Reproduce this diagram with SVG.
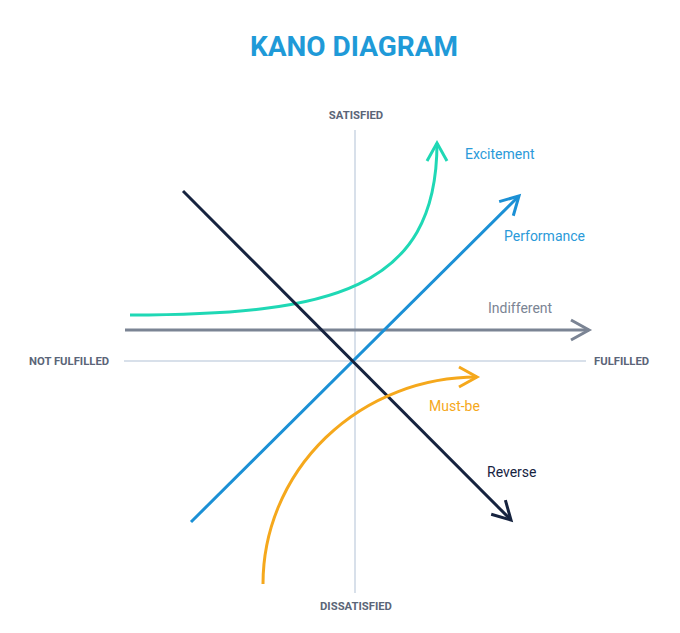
<svg xmlns="http://www.w3.org/2000/svg" width="680" height="633" viewBox="0 0 680 633">
  <style>
    text { font-family: Roboto, "Liberation Sans", sans-serif; }
    .title { font-size: 28px; font-weight: 700; fill: #1f9ad8; }
    .axislabel { font-size: 11.3px; font-weight: 700; fill: #5b6578; }
    .lbl { font-size: 14px; }
    .axis { stroke: #d8e0ea; stroke-width: 2; fill: none; }
    .curve { fill: none; stroke-width: 3; stroke-linecap: butt; }
  </style>
  <defs>
    <marker id="ah-exc" markerUnits="userSpaceOnUse" viewBox="-22 -14 26 28" refX="0" refY="0" markerWidth="26" markerHeight="28" orient="auto" overflow="visible">
      <path d="M-18,-10 L0,0 L-18,10" fill="none" stroke="#1fd8b5" stroke-width="3"/>
    </marker>
    <marker id="ah-perf" markerUnits="userSpaceOnUse" viewBox="-22 -14 26 28" refX="0" refY="0" markerWidth="26" markerHeight="28" orient="auto" overflow="visible">
      <path d="M-18,-10 L0,0 L-18,10" fill="none" stroke="#1b90d5" stroke-width="3"/>
    </marker>
    <marker id="ah-ind" markerUnits="userSpaceOnUse" viewBox="-22 -14 26 28" refX="0" refY="0" markerWidth="26" markerHeight="28" orient="auto" overflow="visible">
      <path d="M-18,-10 L0,0 L-18,10" fill="none" stroke="#7b8494" stroke-width="3"/>
    </marker>
    <marker id="ah-must" markerUnits="userSpaceOnUse" viewBox="-22 -14 26 28" refX="0" refY="0" markerWidth="26" markerHeight="28" orient="auto" overflow="visible">
      <path d="M-18,-10 L0,0 L-18,10" fill="none" stroke="#f5a81c" stroke-width="3"/>
    </marker>
    <marker id="ah-rev" markerUnits="userSpaceOnUse" viewBox="-22 -14 26 28" refX="0" refY="0" markerWidth="26" markerHeight="28" orient="auto" overflow="visible">
      <path d="M-18,-10 L0,0 L-18,10" fill="none" stroke="#16233f" stroke-width="3"/>
    </marker>
  </defs>

  <rect width="680" height="633" fill="#ffffff"/>

  <text class="title" x="354" y="56" text-anchor="middle">KANO DIAGRAM</text>

  <g id="axes">
    <line class="axis" x1="355" y1="130" x2="355" y2="593"/>
    <line class="axis" x1="124" y1="361" x2="586" y2="361"/>
    <text class="axislabel" x="356" y="119" text-anchor="middle">SATISFIED</text>
    <text class="axislabel" x="356" y="610" text-anchor="middle">DISSATISFIED</text>
    <text class="axislabel" x="29" y="365">NOT FULFILLED</text>
    <text class="axislabel" x="594" y="365">FULFILLED</text>
  </g>

  <g id="connectors">
    <path id="c-excitement" class="curve" stroke="#1fd8b5" d="M130,315 C330,315 437,290 437,143" marker-end="url(#ah-exc)"/>
    <path id="c-indifferent" class="curve" stroke="#7b8494" d="M125,330 L589,330" marker-end="url(#ah-ind)"/>
    <path id="c-performance" class="curve" stroke="#1b90d5" d="M191,522 L519,196" marker-end="url(#ah-perf)"/>
    <path id="c-reverse" class="curve" stroke="#16233f" d="M183,191 L511,520" marker-end="url(#ah-rev)"/>
    <path id="c-mustbe" class="curve" stroke="#f5a81c" d="M263,584 A214,207 0 0 1 477,377" marker-end="url(#ah-must)"/>
  </g>

  <g id="excitement">
    <text class="lbl" x="465" y="159" fill="#2b9ad9">Excitement</text>
  </g>
  <g id="performance">
    <text class="lbl" x="504" y="241" fill="#2b9ad9">Performance</text>
  </g>
  <g id="indifferent">
    <text class="lbl" x="488" y="313" fill="#7b8494">Indifferent</text>
  </g>
  <g id="mustbe">
    <text class="lbl" x="429" y="411" fill="#f5a81c">Must-be</text>
  </g>
  <g id="reverse">
    <text class="lbl" x="487" y="477" fill="#16233f">Reverse</text>
  </g>
</svg>
